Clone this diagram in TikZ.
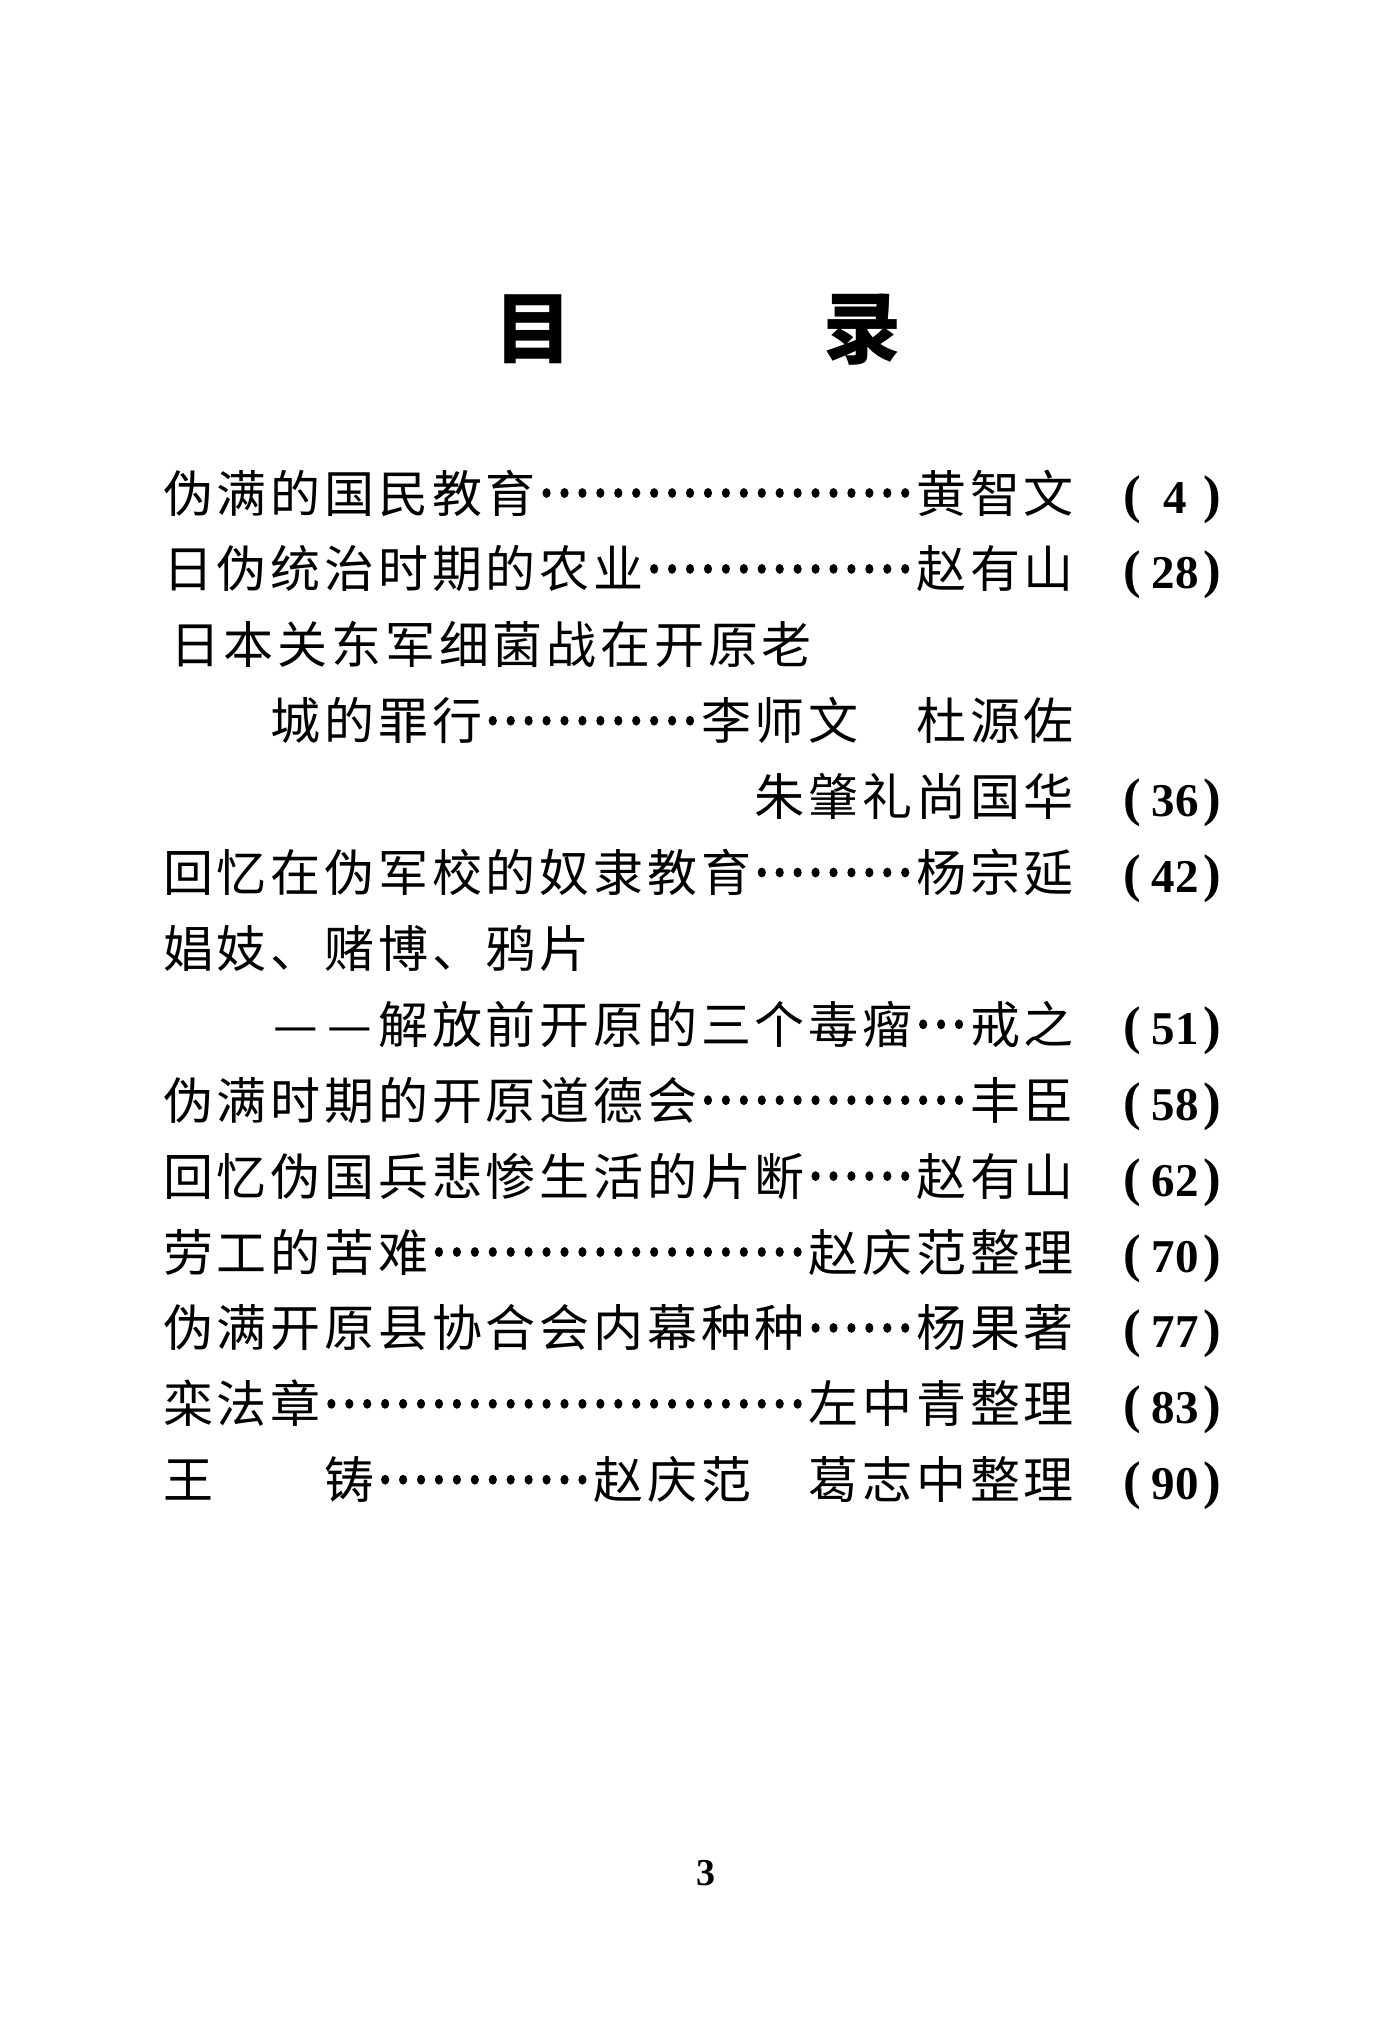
\documentclass[tikz,border=0pt]{standalone}
\usepackage{fontspec}
\setmainfont{Liberation Serif}
\newfontfamily\cjk{Noto Sans CJK SC}
\newlength\pitch
\setlength\pitch{53.8pt}
\def\gridloop#1{\ifx#1\relax\else\makebox[\pitch]{#1}\expandafter\gridloop\fi}
\newcommand\grid[1]{\gridloop#1\relax}
\tikzset{
  body/.style={inner sep=0pt, anchor=base west, font=\cjk\fontsize{50}{50}\selectfont},
  titlech/.style={inner sep=0pt, anchor=base, font=\cjk\bfseries\fontsize{78}{78}\selectfont},
  pnum/.style={inner sep=0pt, anchor=base, font=\bfseries\fontsize{47}{47}\selectfont},
  paren/.style={inner sep=0pt, anchor=base, font=\bfseries\fontsize{53}{53}\selectfont},
  folio/.style={inner sep=0pt, anchor=base, font=\bfseries\fontsize{38}{38}\selectfont},
  leaderdot/.style={fill=black, draw=none},
}
% #1 name, #2 line index, #3 column, #4 text
\newcommand\seg[4]{\node[body] (#1) at ({161+53.8*#3},{493+75.9*#2+19}) {\grid{#4}};}
% #1 line index, #2 first column, #3 column after last
\newcommand\dotrun[3]{%
  \pgfmathtruncatemacro\ndots{3*(#3-#2)-1}%
  \foreach \j in {0,...,\ndots}{%
    \path[leaderdot] ({161+53.8*#2+17.933*(\j+0.5)},{493+75.9*#1}) ellipse (4.1 and 4.9);}}
% #1 name, #2 line index, #3 number
\newcommand\pg[3]{%
  \node[paren] (#1l) at (1132,{493+75.9*#2+19}) {(};
  \node[pnum] (#1n) at (1175,{493+75.9*#2+20}) {#3};
  \node[paren] (#1r) at (1212,{493+75.9*#2+19}) {)};}
\begin{document}
\begin{tikzpicture}[x=1pt,y=-1pt]
\useasboundingbox[fill=white] (0,0) rectangle (1393,2039);
% title
\node[titlech] (mu) at (533,357) {目};
\node[titlech] (lu) at (862,357) {录};
% line 0
\seg{a0}{0}{0}{伪满的国民教育}
\dotrun{0}{7}{14}
\seg{a0w}{0}{14}{黄智文}
\pg{p0}{0}{4}
% line 1
\seg{a1}{1}{0}{日伪统治时期的农业}
\dotrun{1}{9}{14}
\seg{a1w}{1}{14}{赵有山}
\pg{p1}{1}{28}
% line 2
\node[body] (a2) at ({168},{493+75.9*2+19}) {\grid{日本关东军细菌战在开原老}};
% line 3
\seg{a3}{3}{2}{城的罪行}
\dotrun{3}{6}{10}
\seg{a3w}{3}{10}{李师文}
\seg{a3v}{3}{14}{杜源佐}
% line 4
\seg{a4w}{4}{11}{朱肇礼尚国华}
\pg{p4}{4}{36}
% line 5
\seg{a5}{5}{0}{回忆在伪军校的奴隶教育}
\dotrun{5}{11}{14}
\seg{a5w}{5}{14}{杨宗延}
\pg{p5}{5}{42}
% line 6
\seg{a6}{6}{0}{娼妓、赌博、鸦片}
% line 7
\seg{a7}{7}{2}{——解放前开原的三个毒瘤}
\dotrun{7}{14}{15}
\seg{a7w}{7}{15}{戒之}
\pg{p7}{7}{51}
% line 8
\seg{a8}{8}{0}{伪满时期的开原道德会}
\dotrun{8}{10}{15}
\seg{a8w}{8}{15}{丰臣}
\pg{p8}{8}{58}
% line 9
\seg{a9}{9}{0}{回忆伪国兵悲惨生活的片断}
\dotrun{9}{12}{14}
\seg{a9w}{9}{14}{赵有山}
\pg{p9}{9}{62}
% line 10
\seg{a10}{10}{0}{劳工的苦难}
\dotrun{10}{5}{12}
\seg{a10w}{10}{12}{赵庆范整理}
\pg{p10}{10}{70}
% line 11
\seg{a11}{11}{0}{伪满开原县协合会内幕种种}
\dotrun{11}{12}{14}
\seg{a11w}{11}{14}{杨果著}
\pg{p11}{11}{77}
% line 12
\seg{a12}{12}{0}{栾法章}
\dotrun{12}{3}{12}
\seg{a12w}{12}{12}{左中青整理}
\pg{p12}{12}{83}
% line 13
\seg{a13}{13}{0}{王}
\seg{a13b}{13}{3}{铸}
\dotrun{13}{4}{8}
\seg{a13w}{13}{8}{赵庆范}
\seg{a13v}{13}{12}{葛志中整理}
\pg{p13}{13}{90}
% folio
\node[folio] (folio) at (706,1885) {3};
\end{tikzpicture}
\end{document}
